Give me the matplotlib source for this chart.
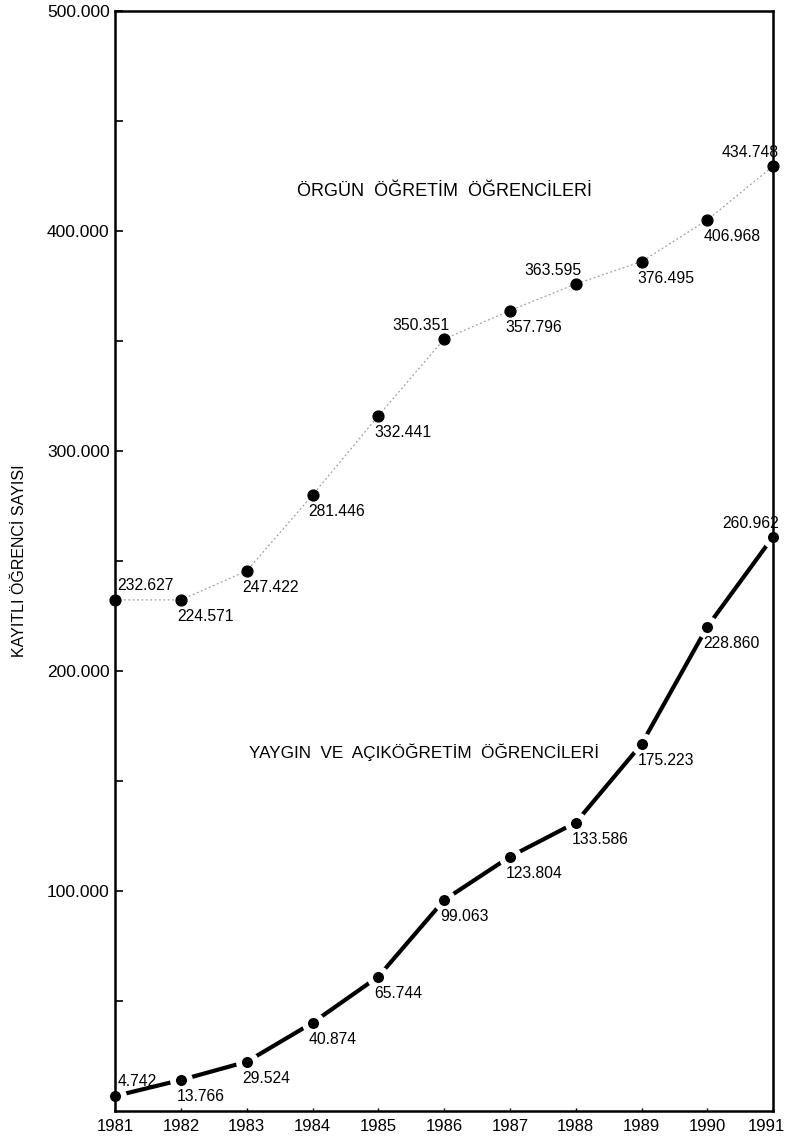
###################################################
# Kayıtlı öğrenci sayısı 1981-1991                #
###################################################
import matplotlib
matplotlib.use("Agg")
import matplotlib.pyplot as plt
import matplotlib.transforms as mtransforms
from matplotlib.ticker import FixedLocator

plt.rcParams['font.family'] = ['Liberation Sans', 'DejaVu Sans']

###################################################
###################### Datos ######################
###################################################
years = [1981, 1982, 1983, 1984, 1985, 1986, 1987, 1988, 1989, 1990, 1991]

# Örgün öğretim (posición)
orgun = [232300, 232300, 245500, 280000, 316000, 350900, 363800, 375900, 386100, 405000, 429500]
orgunLabels = ["232.627", "224.571", "247.422", "281.446", "332.441", "350.351",
               "357.796", "363.595", "376.495", "406.968", "434.748"]
# 'a' = arriba del punto, 'b' = abajo
orgunWhere = ['a', 'b', 'b', 'b', 'b', 'a', 'b', 'a', 'b', 'b', 'a']

# Yaygın ve açıköğretim
yaygin = [6800, 14100, 22400, 40100, 61100, 95900, 115600, 131100, 166800, 220200, 261100]
yayginLabels = ["4.742", "13.766", "29.524", "40.874", "65.744", "99.063",
                "123.804", "133.586", "175.223", "228.860", "260.962"]
yayginWhere = ['a', 'b', 'b', 'b', 'b', 'b', 'b', 'b', 'b', 'b', 'a']

yMajor = [100000, 200000, 300000, 400000, 500000]
yMajorLabels = ["100.000", "200.000", "300.000", "400.000", "500.000"]
yMinor = [50000, 150000, 250000, 350000, 450000]

###################################################
##################### Gráfico #####################
###################################################
def putLabels(ax, xs, ys, texts, where):
    for x, y, t, w in zip(xs, ys, texts, where):
        if w == 'a':
            # arriba: a la izquierda en el primer año, a la derecha en el resto
            if x == years[0]:
                ax.annotate(t, (x, y), xytext=(1.5, 10.5), textcoords='offset points',
                            ha='left', va='center', fontsize=11.3)
            else:
                ax.annotate(t, (x, y), xytext=(4, 9.5), textcoords='offset points',
                            ha='right', va='center', fontsize=11.3)
        else:
            ax.annotate(t, (x, y), xytext=(-3, -12), textcoords='offset points',
                        ha='left', va='center', fontsize=11.3)

fig = plt.figure(figsize=(7.89, 11.39), dpi=100)
ax = fig.add_axes([0.146, 0.0246, 0.834, 0.9658])

# serie superior: línea gris punteada y tenue
ax.plot(years, orgun, color='#a0a0a0', linestyle=(0, (1.5, 2)), linewidth=0.9,
        marker='o', markersize=7.8, markerfacecolor='black', markeredgecolor='black',
        clip_on=False, zorder=2)

# serie inferior: línea negra gruesa, cortada junto a cada punto (anillo blanco)
ax.plot(years, yaygin, color='black', linewidth=3, solid_capstyle='butt',
        marker='o', markersize=12.2, markerfacecolor='black', markeredgecolor='white',
        markeredgewidth=4.2, clip_on=False, zorder=2)

putLabels(ax, years, orgun, orgunLabels, orgunWhere)
putLabels(ax, years, yaygin, yayginLabels, yayginWhere)

ax.text(1986.0, 418000, "ÖRGÜN  ÖĞRETİM  ÖĞRENCİLERİ", fontsize=13,
        ha='center', va='center')
ax.text(1985.7, 163000, "YAYGIN  VE  AÇIKÖĞRETİM  ÖĞRENCİLERİ", fontsize=12.3,
        ha='center', va='center')

ax.set_xlim(1981, 1991)
ax.set_ylim(0, 500000)
ax.set_xticks(years)
ax.set_xticklabels([str(y) for y in years], fontsize=12)
ax.yaxis.set_major_locator(FixedLocator(yMajor))
ax.set_yticklabels(yMajorLabels, fontsize=12.5)
ax.yaxis.set_minor_locator(FixedLocator(yMinor))

ax.tick_params(axis='y', which='both', direction='in', length=6, width=1.2, pad=4)
ax.tick_params(axis='x', direction='in', length=2.5, width=1, pad=6)

# el último año queda pegado al borde: correrlo un poco a la izquierda
last = ax.get_xticklabels()[-1]
last.set_transform(last.get_transform() +
                   mtransforms.ScaledTranslation(-5 / 72, 0, fig.dpi_scale_trans))

for s in ax.spines.values():
    s.set_linewidth(1.8)

fig.text(20 / 789, 0.0246 + 0.9658 / 2, "KAYITLI ÖĞRENCİ SAYISI", rotation=90,
         ha='center', va='center', fontsize=11.5)

plt.savefig("out.png", dpi=100)
